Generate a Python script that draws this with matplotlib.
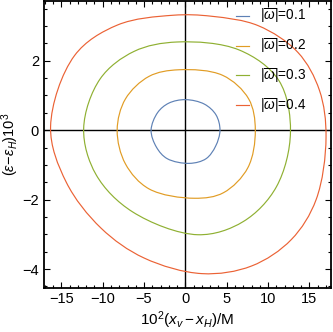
import numpy as np
import matplotlib
matplotlib.use("Agg")
import matplotlib.pyplot as plt
from matplotlib.ticker import MultipleLocator
from matplotlib.path import Path
from matplotlib.patches import PathPatch

plt.rcParams['font.family'] = ['Liberation Sans', 'DejaVu Sans']
plt.rcParams['mathtext.fontset'] = 'custom'
plt.rcParams['mathtext.rm'] = 'Liberation Sans'
plt.rcParams['mathtext.it'] = 'Liberation Sans:italic'
plt.rcParams['mathtext.fallback'] = 'stixsans'

# curves, (x, y) going round each closed loop
omega_labels = ['0.1', '0.2', '0.3', '0.4']
colors = ['#5E81B5', '#E19C24', '#8FB032', '#EB6235']

x_01 = [0, -2.0, -3.35, -4.15, -3.5, -2.2, 0.5, 2.5, 3.65, 4.18, 3.7, 2.3]
y_01 = [0.88, 0.78, 0.51, 0, -0.49, -0.82, -0.955, -0.82, -0.46, 0, 0.44, 0.75]

x_02 = [-0.8, -4.4, -7.25, -8.25, -7.25, -4.4, 1.1, 4.6, 7.55, 8.45, 7.65, 4.5]
y_02 = [1.74, 1.55, 0.90, 0, -0.97, -1.69, -1.96, -1.80, -1.08, 0, 0.90, 1.58]

x_03 = [-1.0, -6.2, -10.3, -12.3, -10.8, -6.4, 1.5, 7.0, 11.0, 12.7, 11.3, 6.5]
y_03 = [2.54, 2.27, 1.48, 0.05, -1.28, -2.35, -3.01, -2.63, -1.63, -0.05, 1.43, 2.31]

x_04 = [-1.5, -8.2, -13.4, -16.3, -14.4, -10.2, -5.0, 2.0, 8.0, 12.8, 15.8, 17.0, 16.2, 13.6, 8.8, 3.2]
y_04 = [3.31, 3.03, 2.15, 0.10, -1.50, -2.82, -3.68, -4.13, -3.91, -3.15, -2.0, -0.2, 1.15, 2.24, 3.01, 3.28]

xs = [x_01, x_02, x_03, x_04]
ys = [y_01, y_02, y_03, y_04]

# y unit is about 4.2 times the x unit on screen, used only to space the curve knots
Y_ASPECT = 4.2


def smooth_loop(x, y, alpha=0.5):
    # closed centripetal Catmull-Rom curve through the points, as cubic Bezier segments
    p = np.column_stack([x, y]).astype(float)
    s = p * [1.0, Y_ASPECT]
    n = len(p)
    verts = [p[0]]
    codes = [Path.MOVETO]
    for i in range(n):
        i0, i1, i2, i3 = i - 1, i, (i + 1) % n, (i + 2) % n
        d1 = np.linalg.norm(s[i1] - s[i0]) ** alpha
        d2 = np.linalg.norm(s[i2] - s[i1]) ** alpha
        d3 = np.linalg.norm(s[i3] - s[i2]) ** alpha
        p0, p1, p2, p3 = p[i0], p[i1], p[i2], p[i3]
        b1 = (d1 ** 2 * p2 - d2 ** 2 * p0 + (2 * d1 ** 2 + 3 * d1 * d2 + d2 ** 2) * p1) / (3 * d1 * (d1 + d2))
        b2 = (d3 ** 2 * p1 - d2 ** 2 * p3 + (2 * d3 ** 2 + 3 * d3 * d2 + d2 ** 2) * p2) / (3 * d3 * (d3 + d2))
        verts += [b1, b2, p2]
        codes += [Path.CURVE4] * 3
    return Path(verts, codes)


fig = plt.figure(figsize=(3.33, 3.32), dpi=100)
ax = fig.add_axes([0.132, 0.134, 0.862, 0.864])

ax.axhline(0, color='black', lw=1.0, zorder=1)
ax.axvline(0, color='black', lw=1.0, zorder=1)

for x, y, c, lab in zip(xs, ys, colors, omega_labels):
    ax.add_patch(PathPatch(smooth_loop(x, y), fill=False, edgecolor=c, lw=0.85, zorder=2))
    ax.plot([], [], color=c, lw=0.85, label=r'$|\overline{\omega}|$=' + lab)

ax.set_xlim(-17.1, 17.6)
ax.set_ylim(-4.53, 3.73)
ax.xaxis.set_major_locator(MultipleLocator(5))
ax.xaxis.set_minor_locator(MultipleLocator(1))
ax.yaxis.set_major_locator(MultipleLocator(2))
ax.yaxis.set_minor_locator(MultipleLocator(0.5))
ax.tick_params(which='both', direction='in', top=True, right=True, labelsize=10.5, width=0.8)
ax.tick_params(which='major', length=4)
ax.tick_params(which='minor', length=2)
for s in ax.spines.values():
    s.set_linewidth(1.3)

ax.set_xlabel(r'$10^2(x_v-x_H)$/M', fontsize=11, labelpad=2)
ax.set_ylabel(r'$(\epsilon\!-\!\epsilon_H)10^3$', fontsize=10.5, labelpad=1)

ax.legend(loc='upper left', bbox_to_anchor=(0.67, 0.978), frameon=False, fontsize=9.8,
          handlelength=0.95, handletextpad=0.8, labelspacing=0.85, borderpad=0, borderaxespad=0)

fig.savefig('out.png', dpi=100)
